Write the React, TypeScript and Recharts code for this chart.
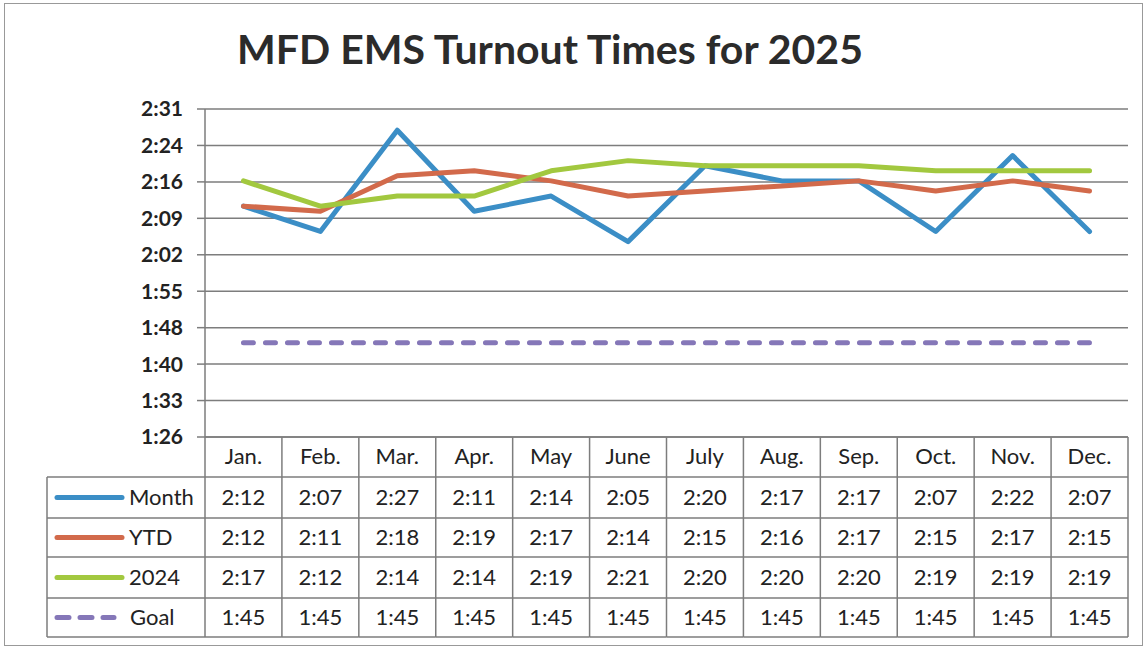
import React from 'react';
import { LineChart, Line, XAxis, YAxis, CartesianGrid } from 'recharts';

// turnout times in seconds
const months = ['Jan.', 'Feb.', 'Mar.', 'Apr.', 'May', 'June', 'July', 'Aug.', 'Sep.', 'Oct.', 'Nov.', 'Dec.'];
const monthTimes = [132, 127, 147, 131, 134, 125, 140, 137, 137, 127, 142, 127];
const ytdTimes = [132, 131, 138, 139, 137, 134, 135, 136, 137, 135, 137, 135];
const prevYearTimes = [137, 132, 134, 134, 139, 141, 140, 140, 140, 139, 139, 139];
const goalTimes = [105, 105, 105, 105, 105, 105, 105, 105, 105, 105, 105, 105];
const yTicks = [86.4, 93.6, 100.8, 108, 115.2, 122.4, 129.6, 136.8, 144, 151.2];

const series = [
  { key: 'monthly', name: 'Month', values: monthTimes, color: '#3b8ec6', dash: undefined },
  { key: 'ytd', name: 'YTD', values: ytdTimes, color: '#d26a4b', dash: undefined },
  { key: 'y2024', name: '2024', values: prevYearTimes, color: '#a2c83f', dash: undefined },
  { key: 'goal', name: 'Goal', values: goalTimes, color: '#8577b8', dash: '10 12' },
];

const data = months.map((m, i) => {
  const row: Record<string, any> = { cat: m };
  series.forEach((s) => (row[s.key] = s.values[i]));
  return row;
});

const W = 1148;
const H = 649;
const PLOT_LEFT = 205;
const PLOT_RIGHT = 1128;
const PLOT_TOP = 109;
const PLOT_BOTTOM = 437;
const COL_W = (PLOT_RIGHT - PLOT_LEFT) / months.length;
const ROWS = [437, 477, 518, 557, 598, 637];
const KEY_LEFT = 47;
const FONT = 'Lato, "Open Sans", sans-serif';
const GRID = '#7d7d7d';

const fmt = (v: number) => {
  const s = Math.floor(v + 1e-6);
  const m = Math.floor(s / 60);
  const r = s % 60;
  return `${m}:${r < 10 ? '0' : ''}${r}`;
};

function TableTick(props: any) {
  const { x, payload } = props;
  const i = months.indexOf(payload.value);
  const left = x - COL_W / 2;
  const right = x + COL_W / 2;
  return (
    <g>
      <line x1={right} x2={right} y1={ROWS[0]} y2={ROWS[5]} stroke={GRID} strokeWidth={1.5} />
      {ROWS.slice(1).map((ry) => (
        <line key={ry} x1={left} x2={right} y1={ry} y2={ry} stroke={GRID} strokeWidth={1.5} />
      ))}
      <text x={x} y={(ROWS[0] + ROWS[1]) / 2 + 7} textAnchor="middle" fontSize={22} fill="#222" fontFamily={FONT}>
        {payload.value}
      </text>
      {series.map((s, r) => (
        <text key={s.key} x={x} y={(ROWS[r + 1] + ROWS[r + 2]) / 2 + 7} textAnchor="middle" fontSize={22} fill="#222" fontFamily={FONT}>
          {fmt(s.values[i])}
        </text>
      ))}
      {i === 0 && (
        <g>
          <line x1={left} x2={left} y1={ROWS[0]} y2={ROWS[5]} stroke={GRID} strokeWidth={1.5} />
          <line x1={KEY_LEFT} x2={KEY_LEFT} y1={ROWS[1]} y2={ROWS[5]} stroke={GRID} strokeWidth={1.5} />
          {ROWS.slice(1).map((ry) => (
            <line key={ry} x1={KEY_LEFT} x2={left} y1={ry} y2={ry} stroke={GRID} strokeWidth={1.5} />
          ))}
          {series.map((s, r) => {
            const cy = (ROWS[r + 1] + ROWS[r + 2]) / 2;
            return (
              <g key={s.key}>
                <line
                  x1={57}
                  x2={s.dash ? 114 : 122}
                  y1={cy}
                  y2={cy}
                  stroke={s.color}
                  strokeWidth={5}
                  strokeLinecap="round"
                  strokeDasharray={s.dash ? '12 11' : undefined}
                />
                <text x={s.dash ? 130 : 129} y={cy + 7} fontSize={22} fill="#222" fontFamily={FONT}>
                  {s.name}
                </text>
              </g>
            );
          })}
        </g>
      )}
    </g>
  );
}

export default function App() {
  return (
    <div style={{ position: 'absolute', left: 0, top: 0, width: W, height: H, background: '#fff' }}>
      <div
        style={{
          position: 'absolute',
          left: 4,
          top: 3,
          width: W - 9,
          height: H - 6,
          border: '1.5px solid #999',
          boxSizing: 'border-box',
        }}
      />
      <div
        style={{
          position: 'absolute',
          left: 0,
          top: 24,
          width: 1100,
          textAlign: 'center',
          fontFamily: FONT,
          fontWeight: 700,
          fontSize: 41,
          color: '#2b2b2b',
        }}
      >
        MFD EMS Turnout Times for 2025
      </div>
      <LineChart
        width={W}
        height={H}
        data={data}
        margin={{ top: PLOT_TOP, left: 0, right: W - PLOT_RIGHT, bottom: 0 }}
        style={{ position: 'absolute', left: 0, top: 0 }}
      >
        <CartesianGrid vertical={false} stroke={GRID} strokeWidth={1.5} />
        <XAxis
          dataKey="cat"
          interval={0}
          height={H - PLOT_BOTTOM}
          padding={{ left: COL_W / 2, right: COL_W / 2 }}
          axisLine={{ stroke: GRID, strokeWidth: 1.5 }}
          tickLine={false}
          tick={<TableTick />}
        />
        <YAxis
          width={PLOT_LEFT}
          domain={[86.4, 151.2]}
          ticks={yTicks}
          tickFormatter={fmt}
          tickSize={8}
          tickMargin={14}
          axisLine={{ stroke: GRID, strokeWidth: 1.5 }}
          tickLine={{ stroke: GRID, strokeWidth: 1.5 }}
          tick={{ fontSize: 21, fontWeight: 700, fill: '#222', fontFamily: FONT }}
        />
        {series.map((s) => (
          <Line
            key={s.key}
            dataKey={s.key}
            name={s.name}
            stroke={s.color}
            strokeWidth={5}
            strokeDasharray={s.dash}
            strokeLinecap="round"
            strokeLinejoin="round"
            dot={false}
            activeDot={false}
            isAnimationActive={false}
          />
        ))}
      </LineChart>
    </div>
  );
}
